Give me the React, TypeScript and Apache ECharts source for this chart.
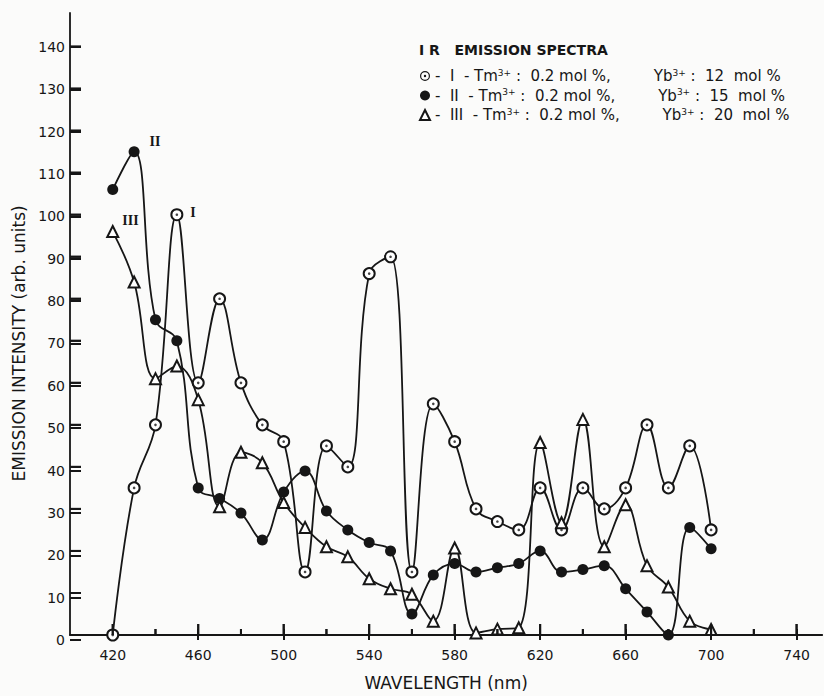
import React, { useEffect, useRef } from "react";
import * as echarts from "echarts";

// ---- data ----
const wavelengths = [420, 430, 440, 450, 460, 470, 480, 490, 500, 510, 520, 530, 540, 550, 560, 570, 580, 590, 600, 610, 620, 630, 640, 650, 660, 670, 680, 690, 700];
const seriesI = [0, 35, 50, 100, 60, 80, 60, 50, 46, 15, 45, 40, 86, 90, 15, 55, 46, 30, 27, 25, 35, 25, 35, 30, 35, 50, 35, 45, 25];
const seriesII = [106, 115, 75, 70, 35, 32.5, 29, 22.6, 34, 39, 29.5, 25, 22, 20, 5, 14.3, 17, 15, 16, 17, 20, 15, 15.6, 16.5, 11, 5.5, 0, 25.6, 20.5];
const seriesIII = [96, 84, 61, 64, 56, 30.5, 43.5, 41, 31.5, 25.6, 21, 18.6, 13.4, 11, 9.7, 3.3, 20.7, 0.5, 1.4, 1.7, 45.8, 26.7, 51.3, 21, 31, 16.5, 11.4, 3.3, 1.3];

const seriesNames = ["I", "II", "III"];
const tmConc = ["0.2", "0.2", "0.2"];
const ybConc = ["12", "15", "20"];
const peakLabelIndex = [3, 1, 0];

// ticks
const xMajorTicks = [420, 460, 500, 540, 580, 620, 660, 700, 740];
const xMinorTicks = [440, 480, 520, 560, 600, 640, 680, 720];
const yTicks = [10, 20, 30, 40, 50, 60, 70, 80, 90, 100, 110, 120, 130, 140];
const xLabelMin = 420;
const xLabelMax = 740;
const xLabelStep = 40;
const yLabelMax = 140;
const yLabelStep = 10;

const chartTitle = "I R   EMISSION SPECTRA";
const xName = "WAVELENGTH (nm)";
const yName = "EMISSION INTENSITY (arb. units)";

const INK = "#161616";
const FONT = "DejaVu Sans";
const X_MIN = 400;
const X_MAX = 752;
const Y_MAX = 148;

// layout (pixels)
const W = 824;
const H = 696;
const PLOT_LEFT = 70;
const PLOT_TOP = 13;
const PLOT_BOTTOM = 56;
const PX_PER_NM = 2.137;
const PLOT_RIGHT = W - (PLOT_LEFT + (X_MAX - X_MIN) * PX_PER_NM);
const PX_PER_UNIT = (H - PLOT_BOTTOM - PLOT_TOP) / Y_MAX;
const MAJOR_TICK = 11;
const MINOR_TICK = 6;
const Y_TICK = 11;
const TICK_W = 2;

const ringDotIcon =
  "path://M0,-10A10,10,0,1,1,0,10A10,10,0,1,1,0,-10ZM0,-7.6A7.6,7.6,0,1,0,0,7.6A7.6,7.6,0,1,0,0,-7.6ZM0,-2.4A2.4,2.4,0,1,1,0,2.4A2.4,2.4,0,1,1,0,-2.4Z";

function buildData(values: number[], labelIdx: number, labelText: string, offset: number[]) {
  return wavelengths.map((w, i) => {
    const item: any = { value: [w, values[i]] };
    if (i === labelIdx) {
      item.label = {
        show: true,
        formatter: labelText,
        position: "right",
        offset,
        fontFamily: "Liberation Serif",
        fontWeight: "bold",
        fontSize: 14,
        color: INK,
      };
    }
    return item;
  });
}

// tick marks drawn through the axis scales by a custom series
function tickSeries(name: string, data: number[][], dx: number, dy: number) {
  return {
    name,
    type: "custom",
    xAxisIndex: 0,
    yAxisIndex: 0,
    silent: true,
    z: 4,
    encode: { x: 0, y: 1 },
    data,
    renderItem: (_params: any, api: any) => {
      const p = api.coord([api.value(0), api.value(1)]);
      return {
        type: "line",
        shape: { x1: p[0], y1: p[1], x2: p[0] + dx, y2: p[1] + dy },
        style: { stroke: INK, lineWidth: TICK_W, fill: null },
      };
    },
  };
}

export default function App() {
  const ref = useRef<HTMLDivElement>(null);

  useEffect(() => {
    if (!ref.current) return;
    const chart = echarts.init(ref.current, null, { renderer: "svg" });
    const allSeries = [seriesI, seriesII, seriesIII];
    const symbols = ["emptyCircle", "circle", "emptyTriangle"];
    const legendIcons = [ringDotIcon, "circle", "emptyTriangle"];
    const offsets = [[2, -2], [5, -10], [-2, -11]];

    const labelStyle = { fontFamily: FONT, fontSize: 14, color: INK };
    const tickStyle = { color: INK, width: TICK_W };

    const option: any = {
      animation: false,
      backgroundColor: "#fbfbfa",
      title: {
        text: chartTitle,
        left: 414,
        top: 38,
        textStyle: { fontFamily: FONT, fontWeight: "bold", fontSize: 14, color: INK },
      },
      legend: {
        orient: "vertical",
        left: 414,
        top: 63,
        itemGap: 4,
        itemWidth: 10,
        itemHeight: 10,
        selectedMode: false,
        data: seriesNames.map((n, i) => ({ name: n, icon: legendIcons[i] })),
        itemStyle: { borderWidth: 1.4 },
        formatter: (name: string) => {
          const i = seriesNames.indexOf(name);
          return `{t|-  ${name}  - Tm}{s|3+}{t| :  ${tmConc[i]} mol %,         Yb}{s|3+}{t| :  ${ybConc[i]}  mol %}`;
        },
        textStyle: {
          rich: {
            t: { fontFamily: FONT, fontSize: 15, color: INK, lineHeight: 16 },
            s: { fontFamily: FONT, fontSize: 9, color: INK, verticalAlign: "top", lineHeight: 9 },
          },
        },
      },
      grid: [
        // 0: main plotting grid
        { left: PLOT_LEFT, right: PLOT_RIGHT, top: PLOT_TOP, bottom: PLOT_BOTTOM },
        // 1: grid carrying the x tick labels (every 40 nm from 420)
        {
          left: PLOT_LEFT + (xLabelMin - X_MIN) * PX_PER_NM,
          right: PLOT_RIGHT,
          top: PLOT_TOP,
          bottom: PLOT_BOTTOM,
        },
        // 2: grid carrying the y tick labels (0..140)
        {
          left: PLOT_LEFT,
          right: PLOT_RIGHT,
          top: PLOT_TOP + (Y_MAX - yLabelMax) * PX_PER_UNIT,
          bottom: PLOT_BOTTOM,
        },
      ],
      xAxis: [
        {
          type: "value",
          gridIndex: 0,
          min: X_MIN,
          max: X_MAX,
          name: xName,
          nameLocation: "middle",
          nameGap: 39,
          nameTextStyle: { fontFamily: FONT, fontSize: 17, color: INK },
          axisLine: { show: true, lineStyle: { color: INK, width: 1.8 } },
          axisTick: { show: false },
          axisLabel: { show: false },
          splitLine: { show: false },
        },
        {
          type: "value",
          gridIndex: 1,
          min: xLabelMin,
          max: X_MAX,
          interval: xLabelStep,
          axisLine: { show: false },
          axisTick: { show: true, inside: true, length: MAJOR_TICK, lineStyle: tickStyle },
          axisLabel: {
            ...labelStyle,
            show: true,
            margin: 8,
            showMaxLabel: false,
            formatter: (v: number) => (v <= xLabelMax ? String(v) : ""),
          },
          splitLine: { show: false },
        },
        { type: "value", gridIndex: 2, min: X_MIN, max: X_MAX, show: false },
      ],
      yAxis: [
        {
          type: "value",
          gridIndex: 0,
          min: 0,
          max: Y_MAX,
          axisLine: { show: true, lineStyle: { color: INK, width: 1.8 } },
          axisTick: { show: false },
          axisLabel: { show: false },
          splitLine: { show: false },
        },
        { type: "value", gridIndex: 1, min: 0, max: Y_MAX, show: false },
        {
          type: "value",
          gridIndex: 2,
          min: 0,
          max: yLabelMax,
          interval: yLabelStep,
          name: yName,
          nameLocation: "middle",
          nameGap: 37,
          nameTextStyle: { fontFamily: FONT, fontSize: 17, color: INK },
          axisLine: { show: false },
          axisTick: { show: true, inside: true, length: Y_TICK, lineStyle: tickStyle },
          axisLabel: { ...labelStyle, show: true, margin: 5 },
          splitLine: { show: false },
        },
      ],
      series: [
        ...seriesNames.map((n, k) => ({
          name: n,
          type: "line",
          xAxisIndex: 0,
          yAxisIndex: 0,
          smooth: 0.4,
          symbol: symbols[k],
          symbolSize: 11,
          data: buildData(allSeries[k], peakLabelIndex[k], n, offsets[k]),
          lineStyle: { color: INK, width: 1.8 },
          itemStyle: { color: INK, borderWidth: 1.7 },
          z: 3,
        })),
        {
          name: "I-dot",
          type: "scatter",
          xAxisIndex: 0,
          yAxisIndex: 0,
          symbol: "circle",
          symbolSize: 2.6,
          silent: true,
          data: wavelengths.map((w, i) => [w, seriesI[i]]),
          itemStyle: { color: INK },
          z: 6,
        },
        tickSeries("tick-x-major", xMajorTicks.map((v) => [v, 0]), 0, -MAJOR_TICK),
        tickSeries("tick-x-minor", xMinorTicks.map((v) => [v, 0]), 0, -MINOR_TICK),
        tickSeries("tick-y", yTicks.map((v) => [X_MIN, v]), Y_TICK, 0),
      ],
    };
    chart.setOption(option);

    // additional tick marks placed through the library's own coordinate conversion
    const finder = { xAxisIndex: 0, yAxisIndex: 0 };
    const mk = (v: number[], dx: number, dy: number) => {
      const p = chart.convertToPixel(finder as any, v) as number[];
      if (!p) return null;
      return {
        type: "line",
        silent: true,
        z: 50,
        shape: { x1: p[0], y1: p[1], x2: p[0] + dx, y2: p[1] + dy },
        style: { stroke: INK, lineWidth: TICK_W },
      };
    };
    const graphics = [
      ...xMajorTicks.map((v) => mk([v, 0], 0, -MAJOR_TICK)),
      ...xMinorTicks.map((v) => mk([v, 0], 0, -MINOR_TICK)),
      ...yTicks.map((v) => mk([X_MIN, v], Y_TICK, 0)),
    ].filter(Boolean);
    chart.setOption({ graphic: graphics });

    return () => chart.dispose();
  }, []);

  return (
    <div
      ref={ref}
      style={{ position: "fixed", left: 0, top: 0, width: W, height: H }}
    />
  );
}
